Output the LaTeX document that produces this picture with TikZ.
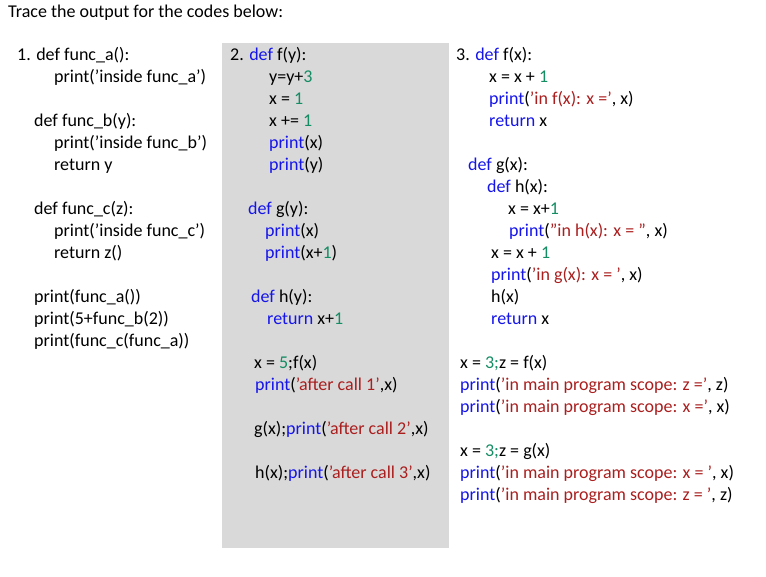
\documentclass[tikz,border=0pt]{standalone}
\usepackage{fontspec}
\setmainfont{Carlito}
\definecolor{kwc}{RGB}{20,20,235}
\definecolor{stc}{RGB}{170,30,30}
\definecolor{nmc}{RGB}{20,140,100}
\definecolor{boxc}{RGB}{217,217,217}
\newcommand{\kw}[1]{\textcolor{kwc}{#1}}
\newcommand{\st}[1]{\textcolor{stc}{#1}}
\newcommand{\nm}[1]{\textcolor{nmc}{#1}}
\newcommand{\q}{\symbol{39}}
\begin{document}
\begin{tikzpicture}[x=1pt,y=-1pt,
  ln/.style={anchor=base west,inner sep=0pt,font=\fontsize{18}{21}\selectfont}]
\useasboundingbox (0,0) rectangle (766,576);
\fill[boxc] (222,43) rectangle (449,548);
\node[ln] (t) at (8,17) {Trace the output for the codes below:};
% column 1
\node[ln] (a1) at (17,60) {1. def func\_a():};
\node[ln] (a2) at (54,82) {print(\q inside func\_a\q)};
\node[ln] (a3) at (34,126) {def func\_b(y):};
\node[ln] (a4) at (54,148) {print(\q inside func\_b\q)};
\node[ln] (a5) at (54,170) {return y};
\node[ln] (a6) at (34,214) {def func\_c(z):};
\node[ln] (a7) at (54,236) {print(\q inside func\_c\q)};
\node[ln] (a8) at (54,258) {return z()};
\node[ln] (a9) at (34,302) {print(func\_a())};
\node[ln] (a10) at (34,324) {print(5+func\_b(2))};
\node[ln] (a11) at (34,346) {print(func\_c(func\_a))};
% column 2
\node[ln] (b1) at (230,60) {2. \kw{def} f(y):};
\node[ln] (b2) at (269,82) {y=y+\nm{3}};
\node[ln] (b3) at (269,104) {x = \nm{1}};
\node[ln] (b4) at (269,126) {x += \nm{1}};
\node[ln] (b5) at (269,148) {\kw{print}(x)};
\node[ln] (b6) at (269,170) {\kw{print}(y)};
\node[ln] (b7) at (248,214) {\kw{def} g(y):};
\node[ln] (b8) at (265,236) {\kw{print}(x)};
\node[ln] (b9) at (265,258) {\kw{print}(x+\nm{1})};
\node[ln] (b10) at (251,302) {\kw{def} h(y):};
\node[ln] (b11) at (267,324) {\kw{return} x+\nm{1}};
\node[ln] (b12) at (254,368) {x = \nm{5};f(x)};
\node[ln] (b13) at (255,390) {\kw{print}(\st{\q after call 1\q},x)};
\node[ln] (b14) at (254,434) {g(x);\kw{print}(\st{\q after call 2\q},x)};
\node[ln] (b15) at (255,478) {h(x);\kw{print}(\st{\q after call 3\q},x)};
% column 3
\node[ln] (c1) at (456,60) {3. \kw{def} f(x):};
\node[ln] (c2) at (489,82) {x = x + \nm{1}};
\node[ln] (c3) at (489,104) {\kw{print}(\st{\q in f(x): x =\q}, x)};
\node[ln] (c4) at (489,126) {\kw{return} x};
\node[ln] (c5) at (468,170) {\kw{def} g(x):};
\node[ln] (c6) at (487,192) {\kw{def} h(x):};
\node[ln] (c7) at (508,214) {x = x+\nm{1}};
\node[ln] (c8) at (509,236) {\kw{print}(\st{"in h(x): x = "}, x)};
\node[ln] (c9) at (491,258) {x = x + \nm{1}};
\node[ln] (c10) at (491,280) {\kw{print}(\st{\q in g(x): x = \q}, x)};
\node[ln] (c11) at (491,302) {h(x)};
\node[ln] (c12) at (491,324) {\kw{return} x};
\node[ln] (c13) at (460,368) {x = \nm{3;}z = f(x)};
\node[ln] (c14) at (460,390) {\kw{print}(\st{\q in main program scope: z =\q}, z)};
\node[ln] (c15) at (460,412) {\kw{print}(\st{\q in main program scope: x =\q}, x)};
\node[ln] (c16) at (460,456) {x = \nm{3;}z = g(x)};
\node[ln] (c17) at (460,478) {\kw{print}(\st{\q in main program scope: x = \q}, x)};
\node[ln] (c18) at (460,500) {\kw{print}(\st{\q in main program scope: z = \q}, z)};
\end{tikzpicture}
\end{document}
